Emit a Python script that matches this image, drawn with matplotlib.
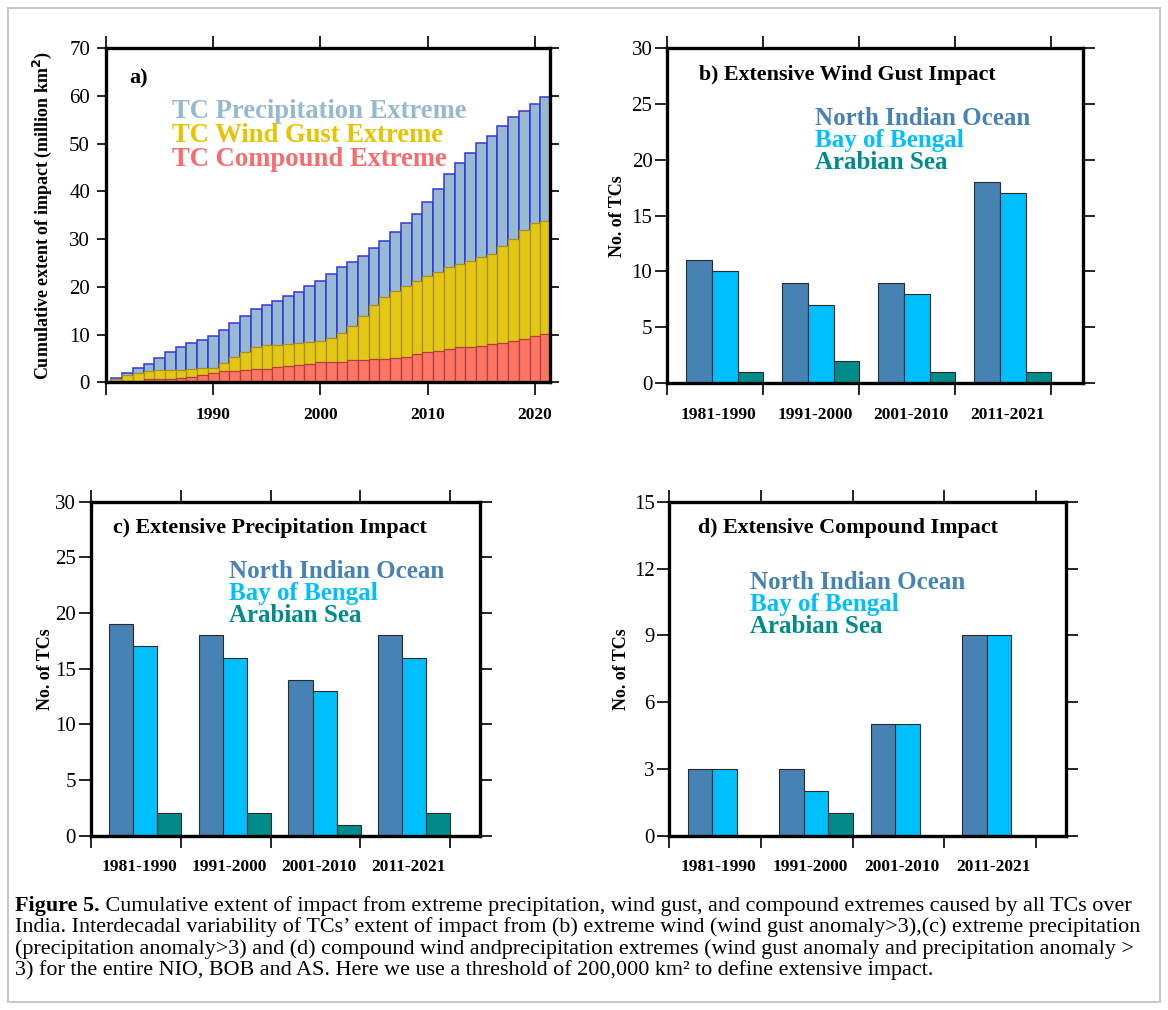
import matplotlib
matplotlib.use('Agg')
import matplotlib.pyplot as plt
import numpy as np
from matplotlib.patches import Rectangle

plt.rcParams['font.family'] = ['Liberation Serif', 'DejaVu Serif']

# ---------------- data ----------------
years = list(range(1981, 2022))
precip_cum = [1.0, 1.9, 2.9, 3.8, 5.1, 6.3, 7.3, 8.3, 8.8, 9.6,
              10.9, 12.4, 13.9, 15.3, 16.3, 17.1, 18.1, 19.0, 20.1, 21.3,
              22.6, 24.1, 25.3, 26.4, 28.2, 29.7, 31.5, 33.4, 35.2, 37.7,
              40.5, 43.6, 46.0, 48.1, 50.1, 51.7, 53.8, 55.6, 56.9, 58.4, 59.7]
wind_cum = [0.75, 1.5, 2.0, 2.4, 2.5, 2.6, 2.6, 2.7, 2.9, 3.1,
            4.0, 5.2, 6.3, 7.3, 7.8, 7.9, 8.0, 8.2, 8.4, 8.7,
            9.2, 10.3, 11.9, 14.0, 16.1, 17.8, 19.1, 20.1, 21.2, 22.3,
            23.1, 24.1, 24.8, 25.5, 26.2, 26.9, 28.5, 30.0, 31.9, 33.4, 33.9]
compound_cum = [0, 0, 0, 0.6, 0.75, 0.75, 1.0, 1.1, 1.5, 1.9,
                2.3, 2.3, 2.6, 2.7, 2.7, 3.3, 3.4, 3.6, 3.8, 4.3,
                4.3, 4.3, 4.6, 4.6, 4.8, 4.8, 5.0, 5.4, 5.9, 6.4,
                6.6, 7.0, 7.3, 7.4, 7.7, 8.1, 8.3, 8.7, 9.1, 9.6, 10.1]
year_ticks = [1980, 1990, 2000, 2010, 2020]
year_labels = ['', '1990', '2000', '2010', '2020']

periods = ['1981-1990', '1991-2000', '2001-2010', '2011-2021']
wind_nio = [11, 9, 9, 18]
wind_bob = [10, 7, 8, 17]
wind_as = [1, 2, 1, 1]
precip_nio = [19, 18, 14, 18]
precip_bob = [17, 16, 13, 16]
precip_as = [2, 2, 1, 2]
comp_nio = [3, 3, 5, 9]
comp_bob = [3, 2, 5, 9]
comp_as = [0, 1, 0, 0]

region_names = ['North Indian Ocean', 'Bay of Bengal', 'Arabian Sea']
region_colors = ['#4682b4', '#00bfff', '#008b8b']

# ---------------- figure ----------------
W, H = 1168, 1010
fig = plt.figure(figsize=(W / 100, H / 100), dpi=100)

fig.add_artist(Rectangle((8 / W, 1 - 1002 / H), 1152 / W, 994 / H,
                         transform=fig.transFigure, fill=False,
                         edgecolor='#c8c8c8', linewidth=1.5))


def px_axes(l, t, r, b):
    return fig.add_axes([l / W, 1 - b / H, (r - l) / W, (b - t) / H])


def frame(ax):
    for s in ax.spines.values():
        s.set_linewidth(2.4)
        s.set_zorder(5)


# ---- panel a ----
axa = px_axes(106, 48.3, 550, 382.3)
frame(axa)
axa.bar(years, precip_cum, width=1.0, color='#97b9d2', edgecolor='#3535d8', linewidth=1.1)
axa.bar(years, wind_cum, width=1.0, color='#e4c615', edgecolor='#a8901a', linewidth=0.9)
axa.bar(years, compound_cum, width=1.0, color='#fd7563', edgecolor='#b04040', linewidth=0.9)
axa.set_xlim(1980, 2021.4)
axa.set_ylim(0, 70)
axa.set_yticks(range(0, 71, 10))
axa.set_xticks(year_ticks)
axa.set_xticklabels(year_labels, fontweight='bold', fontsize=12.5)
axa.tick_params(axis='x', direction='out', length=9, width=1.2, top=True, pad=9)
axa.tick_params(axis='y', direction='out', length=6.5, width=1.2, right=True, labelsize=15, pad=5)
axa.text(0.052, 0.91, 'a)', transform=axa.transAxes, fontsize=16, fontweight='bold', va='center')
for i, (t, c) in enumerate(zip(['TC Precipitation Extreme', 'TC Wind Gust Extreme', 'TC Compound Extreme'],
                               ['#94bad0', '#e8c300', '#fa6c6c'])):
    axa.text(0.148, 0.811 - 0.0715 * i, t, transform=axa.transAxes, fontsize=19.2,
             fontweight='bold', color=c, va='center')
fig.text(42 / W, 1 - 215 / H, 'Cumulative extent of impact (million km$^\\mathbf{2}$)',
         rotation=90, ha='center', va='center', fontsize=13, fontweight='bold')


def panel(rect, nio, bob, as_, ymax, ystep, title, tpos, lpos, ylab_x):
    ax = px_axes(*rect)
    frame(ax)
    x = np.arange(len(periods))
    w = 0.267
    for k, (vals, col) in enumerate(zip([nio, bob, as_], region_colors)):
        ax.bar(x + 0.2 + k * w, vals, width=w, align='edge', color=col,
               edgecolor='#2a2a2a', linewidth=0.8)
    ax.set_xlim(0, 4.33)
    ax.set_ylim(0, ymax)
    ax.set_yticks(np.arange(0, ymax + 0.1, ystep))
    ax.set_xticks(range(5))
    ax.set_xticklabels([])
    ax.set_xticks(x + 0.54, periods, minor=True)
    ax.tick_params(axis='x', which='major', direction='out', length=8.5, width=1.2, top=True)
    ax.tick_params(axis='x', which='minor', length=0, pad=17, labelsize=12.5)
    for lab in ax.get_xticklabels(minor=True):
        lab.set_fontweight('bold')
    ax.tick_params(axis='y', direction='out', length=8.5, width=1.2, right=True, labelsize=15, pad=2)
    ax.text(tpos[0], tpos[1], title, transform=ax.transAxes, fontsize=15.8,
            fontweight='bold', va='center')
    for i, (n, c) in enumerate(zip(region_names, region_colors)):
        ax.text(lpos[0], lpos[1] - 0.066 * i, n, transform=ax.transAxes, fontsize=18,
                fontweight='bold', color=c, va='center')
    yc = (rect[1] + rect[3]) / 2
    fig.text(ylab_x / W, 1 - yc / H, 'No. of TCs', rotation=90, ha='center', va='center',
             fontsize=13, fontweight='bold')
    return ax


panel((667, 48.3, 1083, 383), wind_nio, wind_bob, wind_as, 30, 5,
      'b) Extensive Wind Gust Impact', (0.077, 0.92), (0.356, 0.79), 618)
panel((90.7, 501.7, 480, 835.7), precip_nio, precip_bob, precip_as, 30, 5,
      'c) Extensive Precipitation Impact', (0.0565, 0.921), (0.355, 0.79), 45)
panel((669.3, 501.7, 1066, 835.7), comp_nio, comp_bob, comp_as, 15, 3,
      'd) Extensive Compound Impact', (0.073, 0.921), (0.203, 0.758), 622)

# ---------------- caption ----------------
cap_lines = [
    'Cumulative extent of impact from extreme precipitation, wind gust, and compound extremes caused by all TCs over',
    'India. Interdecadal variability of TCs\u2019 extent of impact from (b) extreme wind (wind gust anomaly>3),(c) extreme precipitation',
    '(precipitation anomaly>3) and (d) compound wind andprecipitation extremes (wind gust anomaly and precipitation anomaly >',
    '3) for the entire NIO, BOB and AS. Here we use a threshold of 200,000 km\u00b2 to define extensive impact.',
]
cap_y = [906, 927.5, 949, 970.5]
x0 = 15
fig.canvas.draw()
r = fig.canvas.get_renderer()
probe = fig.text(0, 0, cap_lines[1], fontsize=14)
wpx = probe.get_window_extent(r).width
probe.remove()
fs = 14 * (1133 / wpx)
t0 = fig.text(x0 / W, 1 - cap_y[0] / H, 'Figure 5.', fontsize=fs, fontweight='bold', va='center')
fig.canvas.draw()
bw = t0.get_window_extent(r).width
fig.text((x0 + bw) / W, 1 - cap_y[0] / H, ' ' + cap_lines[0], fontsize=fs, va='center')
for ln, yy in zip(cap_lines[1:], cap_y[1:]):
    fig.text(x0 / W, 1 - yy / H, ln, fontsize=fs, va='center')

fig.savefig('out.png', dpi=100)
